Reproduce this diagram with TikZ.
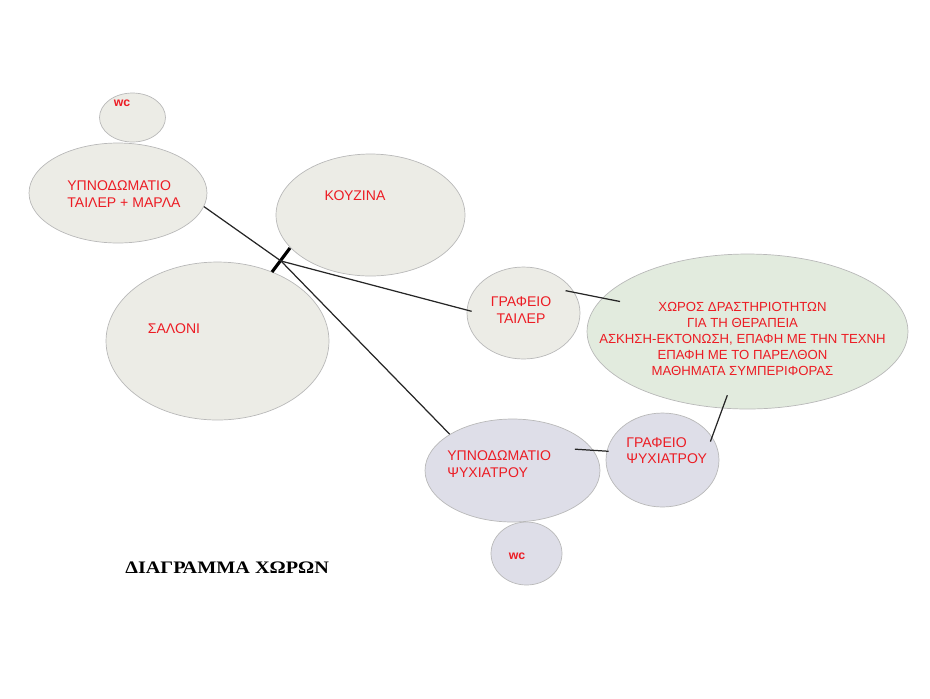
\documentclass[tikz,border=0pt]{standalone}
\usepackage{fontspec}
\setmainfont{Liberation Sans}
\newfontfamily\titlefont[FakeStretch=1.15]{Liberation Serif}
\usetikzlibrary{shapes.geometric}
\definecolor{roomgray}{RGB}{236,236,230}
\definecolor{roomgreen}{RGB}{226,235,222}
\definecolor{roomblue}{RGB}{222,222,232}
\definecolor{rimgray}{RGB}{185,185,185}
\definecolor{textred}{RGB}{236,28,36}

\begin{document}
\begin{tikzpicture}[
    x=0.02cm, y=-0.02cm,
    room/.style={ellipse, draw=rimgray, line width=0.4pt, inner sep=0pt},
    roomtext/.style={text=textred, font=\fontsize{8}{9.4}\selectfont, inner sep=0pt},
    wctext/.style={text=textred, font=\fontsize{7}{8}\selectfont\bfseries, inner sep=0pt},
    link/.style={draw=black!85, line width=0.7pt},
    tick/.style={draw=black, line width=1.8pt}
]
\useasboundingbox (0,0) rectangle (930,698);

\node[room, fill=roomgray, minimum width=1.32cm, minimum height=0.98cm] (wcT) at (132.5,117.5) {};
\node[room, fill=roomgray, minimum width=3.56cm, minimum height=2.00cm] (bedT) at (118,193) {};
\node[room, fill=roomgray, minimum width=3.78cm, minimum height=2.44cm] (kitchen) at (370.5,215) {};
\node[room, fill=roomgray, minimum width=4.46cm, minimum height=3.16cm] (salon) at (217.5,341) {};
\node[room, fill=roomgray, minimum width=2.26cm, minimum height=1.84cm] (offT) at (523.5,313) {};
\node[room, fill=roomgreen, minimum width=6.42cm, minimum height=3.10cm] (activ) at (747.5,331.5) {};
\node[room, fill=roomblue, minimum width=2.26cm, minimum height=1.88cm] (offP) at (662.5,460) {};
\node[room, fill=roomblue, minimum width=1.42cm, minimum height=1.26cm] (wcB) at (526.5,553.5) {};
\node[room, fill=roomblue, minimum width=3.50cm, minimum height=2.06cm] (bedP) at (512.5,470.5) {};

\node[wctext] (tWcT) at (122,103) {wc};
\node[roomtext, anchor=west, align=left] (tBedT) at (67,194) {ΥΠΝΟΔΩΜΑΤΙΟ\\ΤΑΙΛΕΡ + ΜΑΡΛΑ};
\node[roomtext] (tKitchen) at (355,196) {ΚΟΥΖΙΝΑ};
\node[roomtext] (tSalon) at (174,328.5) {ΣΑΛΟΝΙ};
\node[roomtext, align=center] (tOffT) at (521,310) {ΓΡΑΦΕΙΟ\\ΤΑΙΛΕΡ};
\node[roomtext, align=center, font=\fontsize{7.5}{9.1}\selectfont] (tActiv) at (742.5,339) {ΧΩΡΟΣ ΔΡΑΣΤΗΡΙΟΤΗΤΩΝ\\ΓΙΑ ΤΗ ΘΕΡΑΠΕΙΑ\\ΑΣΚΗΣΗ-ΕΚΤΟΝΩΣΗ, ΕΠΑΦΗ ΜΕ ΤΗΝ ΤΕΧΝΗ\\ΕΠΑΦΗ ΜΕ ΤΟ ΠΑΡΕΛΘΟΝ\\ΜΑΘΗΜΑΤΑ ΣΥΜΠΕΡΙΦΟΡΑΣ};
\node[roomtext, anchor=west, align=left] (tOffP) at (626,450.5) {ΓΡΑΦΕΙΟ\\ΨΥΧΙΑΤΡΟΥ};
\node[roomtext, anchor=west, align=left] (tBedP) at (447,464) {ΥΠΝΟΔΩΜΑΤΙΟ\\ΨΥΧΙΑΤΡΟΥ};
\node[wctext] (tWcB) at (517,556) {wc};
\node[font=\titlefont\fontsize{10}{12}\selectfont\bfseries, anchor=west, inner sep=0pt] (title) at (125,567.5) {ΔΙΑΓΡΑΜΜΑ ΧΩΡΩΝ};

\coordinate (hub) at (281,261);
\draw[tick] ([shift={(9,-13)}]hub) -- ([shift={(-9,11)}]hub);

\draw[link] (bedT.-9) -- (hub);
\draw[link] (hub) -- (bedP.150);
\draw[link, shorten >=-0.1cm] (hub) -- (offT.177);
\draw[link, shorten <=-0.18cm, shorten >=-0.36cm] (offT.22) -- (activ.167);
\draw[link, shorten <=-0.28cm, shorten >=-0.1cm] (activ.252) -- (offP.25);
\draw[link, shorten <=-0.37cm, shorten >=-0.04cm] (bedP.14) -- (offP.171);

\end{tikzpicture}
\end{document}
